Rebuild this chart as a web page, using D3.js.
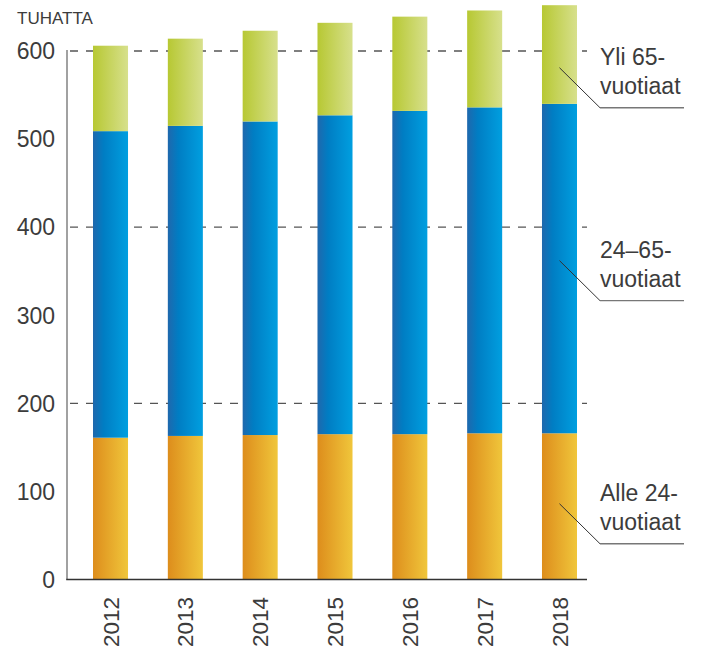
<!DOCTYPE html>
<html>
<head>
<meta charset="utf-8">
<script src="https://cdn.jsdelivr.net/npm/d3@7"></script>
<style>
  body { margin: 0; background: #fff; }
  text { font-family: "Liberation Sans", Arial, sans-serif; fill: #3c3c3c; }
</style>
</head>
<body>
<div id="chart"></div>
<script>
// data (thousands)
const years = ["2012", "2013", "2014", "2015", "2016", "2017", "2018"];
const alle24 = [161, 163, 164, 165, 165, 166, 166];
const vuotiaat24_65 = [348, 352, 356, 362, 367, 370, 374];
const yli65 = [97, 99, 103, 105, 107, 110, 112];
const yTicks = [0, 100, 200, 300, 400, 500, 600];
const gridTicks = [200, 400, 600];
const seriesNames = ["Alle 24-", "24–65-", "Yli 65-"];
const labelAnchors = [86, 362, 581]; // value where the leader line starts, on the last bar

const width = 701, height = 648;
const plot = {left: 67, right: 587, top: 51, bottom: 579.5};

const svg = d3.select("#chart").append("svg")
  .attr("width", width)
  .attr("height", height);

// gradients for the bars
const defs = svg.append("defs");
const gradients = [
  {id: "g-orange", stops: [["0%", "#dd8d1c"], ["100%", "#f0c63b"]]},
  {id: "g-blue", stops: [["0%", "#1f68ad"], ["30%", "#007dc3"], ["100%", "#009fe0"]]},
  {id: "g-green", stops: [["0%", "#b7c833"], ["100%", "#d7e08c"]]}
];
gradients.forEach(g => {
  const lg = defs.append("linearGradient").attr("id", g.id)
    .attr("x1", "0%").attr("x2", "100%").attr("y1", "0%").attr("y2", "0%");
  g.stops.forEach(s => lg.append("stop").attr("offset", s[0]).attr("stop-color", s[1]));
});

const x = d3.scaleBand()
  .domain(years)
  .range([93, 577])
  .paddingInner(0.532)
  .paddingOuter(0);

const y = d3.scaleLinear()
  .domain([0, 600])
  .range([plot.bottom, plot.top]);

// stack
const table = years.map((yr, i) => ({year: yr, a: alle24[i], b: vuotiaat24_65[i], c: yli65[i]}));
const stack = d3.stack().keys(["a", "b", "c"])(table);

// title
svg.append("text")
  .attr("x", 17)
  .attr("y", 24)
  .style("font-size", "17px")
  .text("TUHATTA");

// dashed grid
svg.append("g").selectAll("line")
  .data(gridTicks)
  .join("line")
  .attr("x1", plot.left)
  .attr("x2", plot.right)
  .attr("y1", d => y(d))
  .attr("y2", d => y(d))
  .attr("stroke", "#555")
  .attr("stroke-width", 1.4)
  .attr("stroke-dasharray", "8,8")
  .attr("stroke-dashoffset", -3);

// y tick labels
svg.append("g").selectAll("text")
  .data(yTicks)
  .join("text")
  .attr("x", 55)
  .attr("y", d => y(d))
  .attr("dy", "0.36em")
  .attr("text-anchor", "end")
  .style("font-size", "23px")
  .text(d => d);

// bars
svg.append("g").selectAll("g")
  .data(stack)
  .join("g")
  .attr("fill", (d, i) => "url(#" + gradients[i].id + ")")
  .selectAll("rect")
  .data(d => d)
  .join("rect")
  .attr("x", d => x(d.data.year))
  .attr("width", x.bandwidth())
  .attr("y", d => y(d[1]))
  .attr("height", d => y(d[0]) - y(d[1]));

// axes lines
svg.append("line")
  .attr("x1", plot.left).attr("x2", plot.left)
  .attr("y1", plot.top - 1).attr("y2", plot.bottom)
  .attr("stroke", "#8a8a8a").attr("stroke-width", 1.6);

svg.append("line")
  .attr("x1", plot.left - 0.8).attr("x2", plot.right)
  .attr("y1", plot.bottom).attr("y2", plot.bottom)
  .attr("stroke", "#333").attr("stroke-width", 1.4);

// year labels
svg.append("g").selectAll("text")
  .data(years)
  .join("text")
  .attr("transform", d => "translate(" + (x(d) + x.bandwidth() / 2) + "," + 597 + ") rotate(-90)")
  .attr("dy", "0.36em")
  .attr("text-anchor", "end")
  .style("font-size", "22.5px")
  .text(d => d);

// series labels with leader lines
const last = years[years.length - 1];
const lx = x(last) + x.bandwidth() / 2;
const ann = svg.append("g").selectAll("g")
  .data(seriesNames)
  .join("g")
  .attr("transform", (d, i) => "translate(0," + y(labelAnchors[i]) + ")");

ann.append("polyline")
  .attr("points", "" + lx + ",0 600,40")
  .attr("fill", "none")
  .attr("stroke", "#333")
  .attr("stroke-width", 1);

ann.append("line")
  .attr("x1", 600).attr("x2", 684)
  .attr("y1", 40).attr("y2", 40)
  .attr("stroke", "#777")
  .attr("stroke-width", 1.3);

ann.append("text")
  .attr("x", 600)
  .attr("y", -3)
  .style("font-size", "23px")
  .text(d => d);

ann.append("text")
  .attr("x", 600)
  .attr("y", 26)
  .style("font-size", "23px")
  .text("vuotiaat");
</script>
</body>
</html>
